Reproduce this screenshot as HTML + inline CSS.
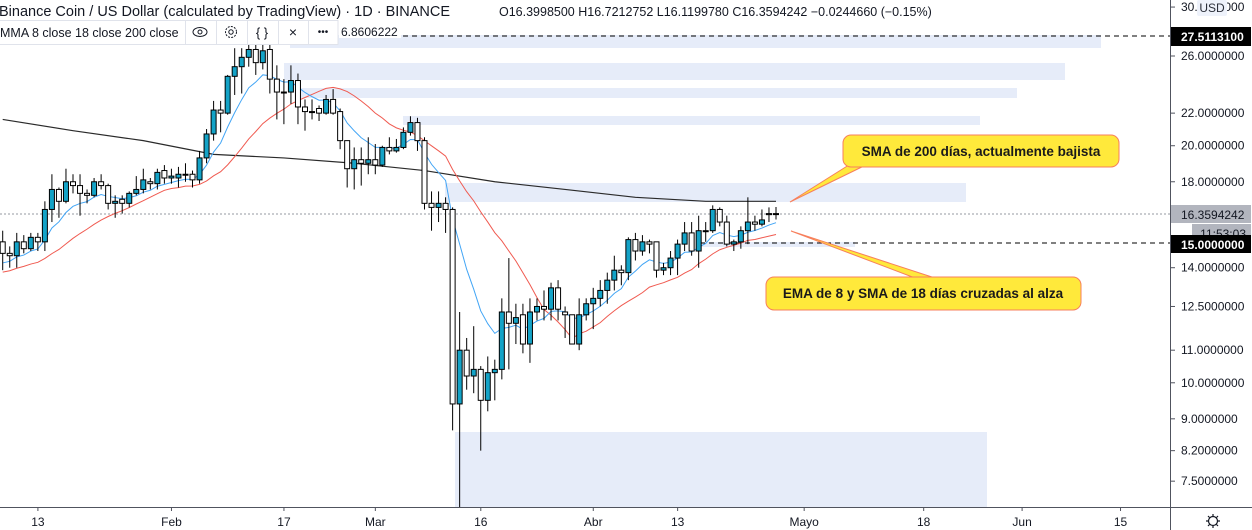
<!DOCTYPE html>
<html><head><meta charset="utf-8"><style>
html,body{margin:0;padding:0;background:#fff;width:1252px;height:530px;overflow:hidden}
svg{display:block;font-family:"Liberation Sans",sans-serif}
</style></head><body>
<svg id="chart" width="1252" height="530" viewBox="0 0 1252 530" xmlns="http://www.w3.org/2000/svg">
<g fill="#e6ecf9">
<rect x="290" y="35" width="811" height="13"/>
<rect x="284" y="63" width="781" height="17"/>
<rect x="295" y="88" width="722" height="10"/>
<rect x="403" y="116" width="577" height="9"/>
<rect x="445" y="183" width="521" height="19"/>
<rect x="700" y="242" width="155" height="5"/>
<rect x="455" y="432" width="532" height="75"/>
</g>
<line x1="340" y1="36" x2="1170" y2="36" stroke="#000" stroke-dasharray="5,4"/>
<line x1="700" y1="243" x2="1170" y2="243" stroke="#000" stroke-dasharray="5,4"/>
<line x1="0" y1="214" x2="1170" y2="214" stroke="#9598a1" stroke-dasharray="2,2"/>
<g id="mas"></g>
<g id="candles"></g>
<g>
<path d="M852 163 L790 202 L870 163" fill="#ffe93b" stroke="#f77f5c" stroke-width="1"/>
<rect x="843" y="135" width="276" height="32" rx="8" fill="#ffe93b" stroke="#f77f5c"/>
<text x="981" y="156" text-anchor="middle" font-size="13.5" font-weight="bold" fill="#1a1a1a">SMA de 200 días, actualmente bajista</text>
</g>
<g>
<path d="M915 278 L791 231 L935 278" fill="#ffe93b" stroke="#f77f5c" stroke-width="1"/>
<rect x="766" y="277" width="315" height="33" rx="8" fill="#ffe93b" stroke="#f77f5c"/>
<text x="923" y="298" text-anchor="middle" font-size="13.5" font-weight="bold" fill="#1a1a1a">EMA de 8 y SMA de 18 días cruzadas al alza</text>
</g>
<rect x="1171" y="0" width="81" height="530" fill="#fff"/>
<rect x="0" y="508" width="1171" height="22" fill="#fff"/>
<line x1="1170.5" y1="0" x2="1170.5" y2="530" stroke="#50535e"/>
<line x1="0" y1="507.5" x2="1252" y2="507.5" stroke="#50535e"/>
<g id="yaxis" font-size="12" fill="#131722"></g>
<g id="xaxis" font-size="12" fill="#131722"></g>
<rect x="1197" y="0" width="30" height="16" rx="2" fill="#eef2fb"/>
<text x="1212" y="12" text-anchor="middle" font-size="12" fill="#2a2e39">USD</text>
<rect x="1171" y="27" width="80" height="19" fill="#000"/>
<text x="1181" y="41" font-size="12" font-weight="bold" fill="#fff">27.5113100</text>
<rect x="1171" y="205" width="80" height="18" fill="#b2b5be"/>
<text x="1181" y="219" font-size="12" fill="#131722">16.3594242</text>
<rect x="1192" y="224" width="59" height="18" fill="#b2b5be"/>
<text x="1246" y="238" text-anchor="end" font-size="12" fill="#131722">11:53:03</text>
<rect x="1171" y="235" width="80" height="18" fill="#000"/>
<text x="1181" y="249" font-size="12" font-weight="bold" fill="#fff">15.0000000</text>
<g transform="translate(1213,521)" fill="none" stroke="#131722" stroke-width="1.2">
<circle r="4.5"/><path d="M0 -7V-5M0 5V7M-7 0H-5M5 0H7M-5 -5L-3.5 -3.5M3.5 3.5L5 5M-5 5L-3.5 3.5M3.5 -3.5L5 -5"/>
</g>
<rect x="0" y="0" width="720" height="20" fill="#fff" opacity="0.85"/>
<text x="-1" y="16" font-size="14.5" fill="#131722">Binance Coin / US Dollar (calculated by TradingView) · 1D · BINANCE</text>
<text x="499" y="16" font-size="12.5" fill="#131722">O16.3998500 H16.7212752 L16.1199780 C16.3594242 −0.0244660 (−0.15%)</text>
<g>
<rect x="-2" y="20.5" width="340" height="24" fill="#fff" stroke="#e0e3eb"/>
<text x="0" y="37" font-size="12.5" fill="#131722">MMA 8 close 18 close 200 close</text>
<line x1="185.5" y1="21" x2="185.5" y2="44" stroke="#e0e3eb"/>
<line x1="216.5" y1="21" x2="216.5" y2="44" stroke="#e0e3eb"/>
<line x1="247.5" y1="21" x2="247.5" y2="44" stroke="#e0e3eb"/>
<line x1="278.5" y1="21" x2="278.5" y2="44" stroke="#e0e3eb"/>
<line x1="308.5" y1="21" x2="308.5" y2="44" stroke="#e0e3eb"/>
<g fill="none" stroke="#131722"><ellipse cx="200" cy="32" rx="7" ry="4.5"/><circle cx="200" cy="32" r="2"/></g>
<g fill="none" stroke="#131722"><circle cx="231" cy="32" r="5.5" stroke-dasharray="2,1.2"/><circle cx="231" cy="32" r="2.2"/></g>
<text x="262" y="37" text-anchor="middle" font-size="13" fill="#131722">{ }</text>
<text x="293" y="37" text-anchor="middle" font-size="14" fill="#131722">×</text>
<text x="323" y="35" text-anchor="middle" font-size="10" fill="#131722">•••</text>
</g>
<rect x="339" y="23" width="62" height="15" fill="#fff"/>
<text x="341" y="36" font-size="12" fill="#131722">6.8606222</text>
</svg>
<script>
const priorCloses=[13.5,13.3,13.4,13.6,13.8,13.7,13.9,13.8,13.6,13.4,13.5,13.7,14.0,14.2,13.9,14.3,14.6];
const opens=[15.1,14.6,14.5,15.1,14.8,15.3,15.1,16.6,17.6,17.0,18.0,17.8,17.4,17.3,18.0,17.8,16.9,17.1,16.9,17.4,17.6,18.0,17.9,18.6,18.2,18.2,18.4,18.4,18.1,19.3,20.7,22.2,22.0,24.5,25.2,25.9,26.5,25.5,26.5,24.3,23.4,23.4,24.2,22.4,22.1,22.3,22.0,22.9,22.1,20.3,18.7,19.2,19.0,19.2,18.9,19.9,19.7,19.9,20.8,21.4,20.3,16.9,16.7,16.9,16.6,9.4,11.0,10.2,10.4,9.5,10.3,10.4,12.3,11.9,12.2,11.2,12.3,12.5,12.4,13.2,12.3,12.2,11.2,12.2,12.6,12.8,13.1,13.5,13.9,13.8,15.2,14.7,15.1,15.1,13.9,14.0,14.4,15.0,15.5,14.7,15.6,15.6,16.6,16.0,15.0,15.1,15.6,16.0,15.9,16.4,16.40];
const highs=[15.6,14.9,15.5,15.4,15.5,15.5,17.0,18.4,17.7,18.7,18.4,18.4,17.6,18.2,18.4,17.9,17.3,17.3,17.5,18.3,18.7,18.2,18.7,18.9,18.7,18.8,19.0,18.6,19.7,21.0,22.8,22.8,24.6,26.6,26.6,26.9,26.9,26.9,26.9,25.3,24.3,25.3,24.7,22.9,22.9,22.5,23.2,23.6,22.3,20.3,19.9,19.9,20.5,20.1,20.0,20.5,20.4,21.1,21.8,21.7,20.5,17.5,17.5,17.2,16.7,12.3,11.4,11.8,10.5,10.8,10.7,12.8,14.4,12.6,12.6,12.8,12.8,13.1,13.4,13.5,12.5,12.2,12.8,12.8,13.2,13.5,13.8,14.5,14.1,15.3,15.5,15.4,15.2,15.1,14.2,14.7,15.2,16.0,16.0,16.3,16.0,16.8,16.7,16.3,15.2,15.8,17.2,16.3,16.6,16.7,16.72];
const lows=[13.9,14.0,14.0,14.6,14.7,14.7,14.7,16.0,16.2,16.9,17.4,16.3,16.9,17.2,17.6,16.6,16.2,16.4,16.7,17.3,17.4,17.6,17.6,17.9,17.9,17.7,18.0,17.7,17.9,19.0,20.3,20.8,21.9,23.2,23.3,25.2,24.6,25.0,23.3,21.6,21.3,22.6,21.3,20.9,21.6,21.5,21.9,21.9,19.8,17.7,17.6,17.8,18.4,18.4,18.8,19.5,19.6,19.8,20.6,19.7,16.6,15.6,16.0,15.5,8.7,6.9,9.8,9.7,8.2,9.2,9.5,10.1,10.4,11.2,10.9,10.6,12.0,12.0,12.0,12.0,11.4,11.2,11.0,12.0,11.7,12.5,12.6,13.1,13.3,13.5,14.3,14.5,14.6,13.6,13.7,13.7,13.7,14.7,14.5,14.0,15.1,15.5,15.8,14.9,14.7,14.8,15.0,15.6,15.8,16.0,16.12];
const closes=[14.6,14.5,15.1,14.8,15.3,15.1,16.6,17.6,17.0,18.0,17.8,17.4,17.3,18.0,17.8,16.9,17.0,16.9,17.4,17.6,18.1,17.9,18.5,18.2,18.3,18.4,18.4,18.1,19.3,20.7,22.2,22.0,24.5,25.2,25.9,26.5,25.5,26.4,24.3,23.4,23.4,24.2,22.4,22.1,22.1,22.0,22.9,22.0,20.3,18.7,19.2,19.0,19.2,18.9,19.9,19.7,19.9,20.8,21.4,20.3,16.9,16.7,16.9,16.6,9.4,11.0,10.2,10.4,9.5,10.3,10.4,12.3,11.9,12.1,11.2,12.3,12.5,12.4,13.2,12.4,12.2,11.2,12.2,12.6,12.8,13.1,13.5,13.9,13.8,15.2,14.7,15.1,15.0,13.9,14.0,14.4,15.0,15.5,14.7,15.6,15.6,16.6,16.0,15.0,15.1,15.6,16.0,15.9,16.1,16.35,16.36];
const sma200Idx=[0,10,20,30,40,50,60,70,80,90,100,110];
const sma200Vals=[21.6,20.9,20.3,19.5,19.3,19.0,18.6,18.0,17.6,17.2,17.0,17.0];
const yTicks=[30,26,22,20,18,14,12.5,11,10,9,8.2,7.5];
const xLabels=["13","Feb","17","Mar","16","Abr","13","Mayo","18","Jun","15"];
const xLabelDays=[0,19,35,48,63,79,91,109,126,140,154];

const NS="http://www.w3.org/2000/svg";
function X(i){return 2.7+7.03*i;}
function dayX(d){return 37.9+7.03*d;}
function Y(v){return 56+(Math.log(26)-Math.log(v))*342;}
function mk(tag,attrs,parent){const e=document.createElementNS(NS,tag);for(const k in attrs)e.setAttribute(k,attrs[k]);parent.appendChild(e);return e;}

const cg=document.getElementById('candles');
for(let i=0;i<closes.length;i++){
  const x=X(i);
  const w=mk('line',{x1:x,x2:x,y1:Y(highs[i]),y2:Y(lows[i]),stroke:'#000','stroke-width':1},cg);
  
  
  const top=Y(Math.max(opens[i],closes[i])),bot=Y(Math.min(opens[i],closes[i]));
  const b=mk('rect',{x:x-2.5,y:top,width:5,height:Math.max(1,bot-top),fill:closes[i]>=opens[i]?'#14a3c7':'#fff',stroke:'#000','stroke-width':1},cg);
  
  
}
const all=priorCloses.concat(closes),off=priorCloses.length;
let ema=priorCloses[0];const k=2/9;const emaPts=[],smaPts=[];
for(let j=0;j<all.length;j++){
  ema=j===0?all[0]:all[j]*k+ema*(1-k);
  if(j>=off){
    const i=j-off;
    const s=all.slice(Math.max(0,j-17),j+1);
    const sma=s.reduce((a,b)=>a+b,0)/s.length;
    emaPts.push(X(i)+','+Y(ema));smaPts.push(X(i)+','+Y(sma));
  }
}
const mg=document.getElementById('mas');
const p200=sma200Idx.map((ix,n)=>X(ix)+','+Y(sma200Vals[n]));
const l1=mk('polyline',{points:p200.join(' '),fill:'none',stroke:'#2a2a2a','stroke-width':1.2},mg);


const l2=mk('polyline',{points:smaPts.join(' '),fill:'none',stroke:'#f05a50','stroke-width':1},mg);


const l3=mk('polyline',{points:emaPts.join(' '),fill:'none',stroke:'#42a5f5','stroke-width':1},mg);


const yg=document.getElementById('yaxis');
yTicks.forEach(v=>{
  const y=Y(v);
  const t=mk('line',{x1:1170,x2:1175,y1:y,y2:y,stroke:'#50535e'},yg);
  
  
  const tx=mk('text',{x:1181,y:y+4},yg);
  tx.textContent=v.toFixed(7);
  
  
});
const xg=document.getElementById('xaxis');
xLabels.forEach((s,n)=>{
  const x=dayX(xLabelDays[n]);
  const t=mk('line',{x1:x,x2:x,y1:507,y2:511,stroke:'#50535e'},xg);
  
  
  const tx=mk('text',{x:x,y:526,'text-anchor':'middle'},xg);
  tx.textContent=s;
  
  
});
</script>
</body></html>
